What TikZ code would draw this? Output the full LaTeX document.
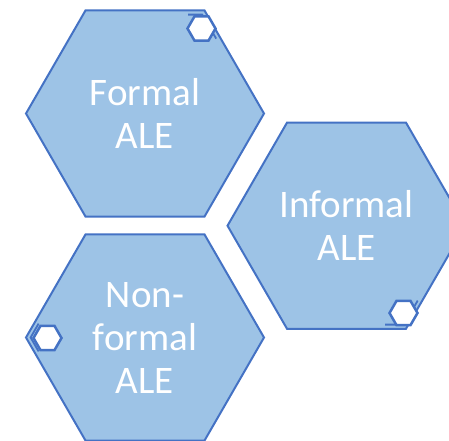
\documentclass[tikz,border=0pt]{standalone}
\usepackage{fontspec}
\setmainfont{Carlito}
\usetikzlibrary{shapes.geometric}

\definecolor{hexfill}{HTML}{9DC3E6}
\definecolor{hexline}{HTML}{4472C4}

\tikzset{
  bighex/.style={regular polygon, regular polygon sides=6, minimum size=238pt,
    inner sep=0pt, fill=hexfill, draw=hexline, line width=2pt,
    text=white, align=center, font=\fontsize{39}{43}\selectfont},
  smallhex/.style={regular polygon, regular polygon sides=6, minimum size=28pt,
    inner sep=0pt, fill=white, draw=hexline, line width=2.5pt},
  innerrim/.style={draw=hexline, line width=1.8pt, line join=miter},
}

\begin{document}
\begin{tikzpicture}[
    x = 1pt,
    y = -1pt,
    ]
    \useasboundingbox (0,0) rectangle (449,440);
    \clip (0,0) rectangle (449,440);
    % big hexagons
    \node[bighex] (formal) at (145,113.5) {Formal\\ALE};
    \node[bighex] (informal) at (346.5,225.7) {Informal\\ALE};
    \node[bighex] (nonformal) at (145,337.5) {Non-\\formal\\ALE};
    % inner rims at the corners
    \draw[innerrim] (188,14.6) -- (202.2,14.6) -- (216.2,38.6);
    \draw[innerrim] (385,324.6) -- (403.7,324.6) -- (417.7,300.6);
    \draw[innerrim] (38.6,323.6) -- (30.6,337.5) -- (38.6,351.4);
    % small hexagons
    \node[smallhex] (formaldot) at (201.5,28.5) {};
    \node[smallhex] (informaldot) at (403.5,313) {};
    \node[smallhex] (nonformaldot) at (47.5,338) {};
\end{tikzpicture}
\end{document}
